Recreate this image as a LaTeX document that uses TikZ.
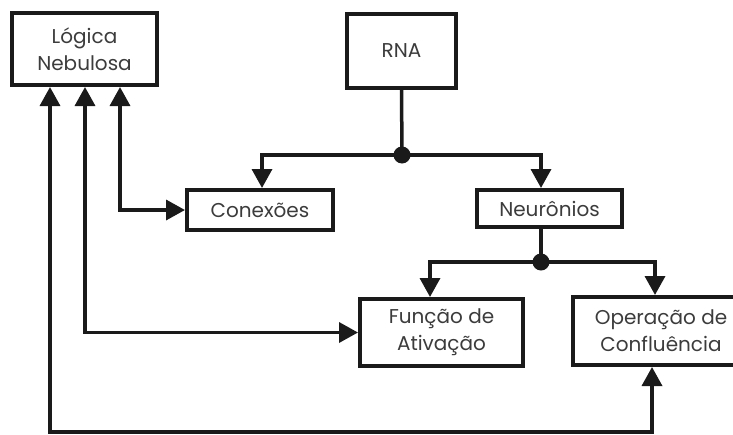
\documentclass[tikz,border=0pt]{standalone}
\usepackage{fontspec}
\setmainfont{Poppins}
\usetikzlibrary{arrows.meta}
\tikzset{
  blk/.style={draw=ink, line width=4pt, fill=white, inner sep=0pt, align=center,
    font=\fontsize{20}{27}\selectfont, text=ink!85},
  wire/.style={draw=ink, line width=3.5pt},
  arr/.style={wire, -{Triangle[length=19pt,width=20pt]}},
  biarr/.style={wire, {Triangle[length=19pt,width=20pt]}-{Triangle[length=19pt,width=20pt]}},
  joint/.style={circle, fill=ink, inner sep=0pt, minimum size=17pt}
}
\definecolor{ink}{HTML}{1A1A1A}
\begin{document}
\begin{tikzpicture}[x=1pt,y=-1pt]
  \useasboundingbox (0,0) rectangle (733,434);
  \clip (0,0) rectangle (733,434);

  % boxes
  \node[blk, minimum width=145pt, minimum height=72pt] (logica) at (84.5,49) {Lógica\\Nebulosa};
  \node[blk, minimum width=109pt, minimum height=74pt] (rna) at (401.5,51) {RNA};
  \node[blk, minimum width=146pt, minimum height=40pt] (conexoes) at (260,210) {Conexões};
  \node[blk, minimum width=145pt, minimum height=37pt] (neuronios) at (549.5,208.5) {Neurônios};
  \node[blk, minimum width=163pt, minimum height=67pt] (funcao) at (441.5,332.5) {Função de\\Ativação};
  \node[blk, minimum width=176pt, minimum height=68pt] (operacao) at (661,331) {Operação de\\Confluência};

  % branch points
  \coordinate (j1) at (402,155);
  \coordinate (j2) at (541,262);
  \coordinate (low) at (0,432);

  % RNA tree
  \draw[wire] (rna.south) -- (j1);
  \draw[arr] (j1) -| ([xshift=2pt]conexoes.north);
  \draw[arr] (j1) -| ([xshift=-8.5pt]neuronios.north);
  \node[joint] at (j1) {};

  % neuron tree
  \draw[wire] ([xshift=-8.5pt]neuronios.south) -- (j2);
  \draw[arr] (j2) -| ([xshift=-11.5pt]funcao.north);
  \draw[arr] (j2) -| ([xshift=-6pt]operacao.north);
  \node[joint] at (j2) {};

  % feedback links to the fuzzy logic block
  \coordinate (l1) at ([xshift=-34.5pt]logica.south);
  \coordinate (l2) at ([xshift=0.5pt]logica.south);
  \coordinate (l3) at ([xshift=35.5pt]logica.south);
  \coordinate (o1) at ([xshift=-9pt]operacao.south);
  \draw[biarr] (l3) |- (conexoes.west);
  \draw[biarr] (l2) |- (funcao.west);
  \draw[biarr] (l1) -- (l1 |- low) -- (o1 |- low) -- (o1);
\end{tikzpicture}
\end{document}
